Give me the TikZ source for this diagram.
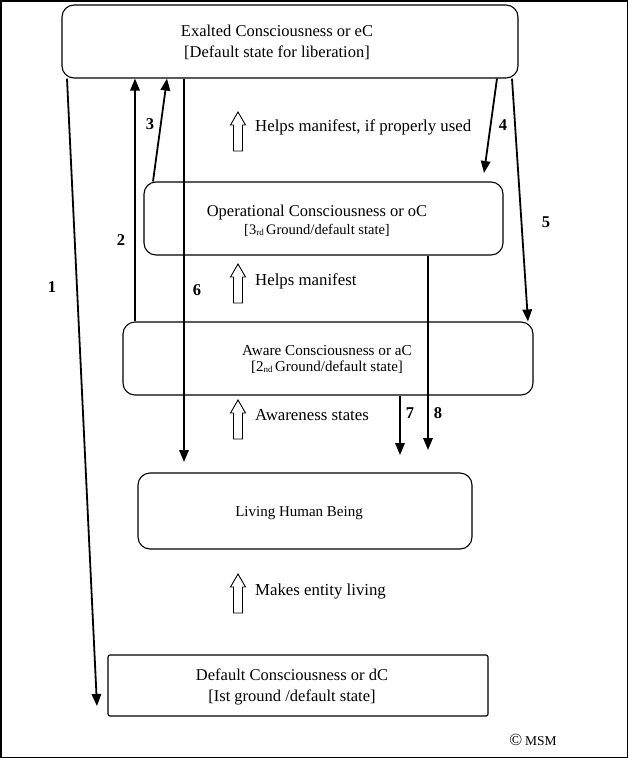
\documentclass[tikz,border=0pt]{standalone}
\usepackage{fontspec}
\setmainfont{Liberation Serif}
\usetikzlibrary{arrows.meta,calc}
\begin{document}
\begin{tikzpicture}[x=1pt,y=-1pt,
  box/.style={draw, line width=1.1pt, rounded corners=12pt, inner sep=0pt},
  sqbox/.style={draw, line width=1.1pt, rounded corners=2pt, inner sep=0pt},
  lbl/.style={font=\fontsize{16.5}{21}\selectfont, align=center, inner sep=0pt},
  lbls/.style={font=\fontsize{15.2}{18}\selectfont, align=center, inner sep=0pt},
  num/.style={font=\fontsize{16.5}{18}\selectfont\bfseries, inner sep=0pt},
  note/.style={font=\fontsize{16.8}{18}\selectfont, anchor=west, inner sep=0pt},
  conn/.style={line width=1.8pt, -{Triangle[length=12pt,width=9.5pt]}},
  hup/.pic={\draw[line width=0.9pt, fill=white] (-4.5,0) -- (-4.5,-26) -- (-7.5,-26) -- (0,-39) -- (7.5,-26) -- (4.5,-26) -- (4.5,0) -- cycle;}
]
\useasboundingbox (0,0) rectangle (628,758);
\draw[line width=1.5pt] (0.75,0.75) rectangle (627.25,757.25);

% boxes
\node[box, minimum width=456pt, minimum height=73pt] (eC) at (290,41.5) {};
\node[box, minimum width=359pt, minimum height=73pt] (oC) at (323.5,218.5) {};
\node[box, minimum width=410pt, minimum height=73pt] (aC) at (328,358.5) {};
\node[box, minimum width=334pt, minimum height=76pt] (LHB) at (305,511) {};
\node[sqbox, minimum width=380pt, minimum height=61pt] (dC) at (298,685.5) {};

% box texts
\node[lbl] (teC) at (277,42) {Exalted Consciousness or eC\\{[}Default state for liberation]};
\node[lbl] (toC) at (317,221) {Operational Consciousness or oC\\[-3pt]{\fontsize{14.5}{16}\selectfont [3\raisebox{-1pt}{\fontsize{9}{9}\selectfont rd}\,Ground/default state]}};
\node[lbls] (taC) at (327,359) {Aware Consciousness or aC\\[-2pt]{\fontsize{15}{16}\selectfont [2\raisebox{-1pt}{\fontsize{9}{9}\selectfont nd}\,Ground/default state]}};
\node[lbls, font=\fontsize{15}{18}\selectfont] (tLHB) at (299,513) {Living Human Being};
\node[lbl] (tdC) at (292,687) {Default Consciousness or dC\\{[}Ist ground /default state]};

% x positions of connectors
\coordinate (x1s) at (67,0);
\coordinate (x2) at (135,0);
\coordinate (x3s) at (153,0);
\coordinate (x3e) at (167,0);
\coordinate (x6) at (184,0);
\coordinate (x4s) at (497,0);
\coordinate (x5s) at (512,0);
\coordinate (x5e) at (528,0);
\coordinate (x7) at (400,0);
\coordinate (x8) at (428,0);
\coordinate (t1) at (97,706);
\coordinate (t4) at (484,173);
\coordinate (t6) at (184,462);
\coordinate (t7) at (400,455);
\coordinate (t8) at (428,450);

% connectors
\draw[conn] (eC.south -| x1s) -- (t1);
\draw[conn] (aC.north -| x2) -- (eC.south -| x2);
\draw[conn] (oC.north -| x3s) -- (eC.south -| x3e);
\draw[conn] (eC.south -| x6) -- (t6);
\draw[conn] (eC.south -| x4s) -- (t4);
\draw[conn] (eC.south -| x5s) -- (aC.north -| x5e);
\draw[conn] (aC.south -| x7) -- (t7);
\draw[conn] (oC.south -| x8) -- (t8);

% connector numbers
\node[num] (n1) at (52,287) {1};
\node[num] (n2) at (121,240) {2};
\node[num] (n3) at (150,124) {3};
\node[num] (n6) at (197,290) {6};
\node[num] (n4) at (503,125) {4};
\node[num] (n5) at (546,222) {5};
\node[num] (n7) at (410,413) {7};
\node[num] (n8) at (438,413) {8};

% hollow arrows and notes
\pic at (238,151) {hup};
\node[note] (h1) at (255,127) {Helps manifest, if properly used};
\pic at (238,303) {hup};
\node[note] (h2) at (255,281) {Helps manifest};
\pic at (238,439) {hup};
\node[note] (h3) at (255,415) {Awareness states};
\pic at (238,613) {hup};
\node[note] (h4) at (255,591) {Makes entity living};

% copyright
\node[inner sep=0pt, font=\fontsize{17}{18}\selectfont] (cp) at (533,740) {©\,{\fontsize{13.5}{14}\selectfont MSM}};
\end{tikzpicture}
\end{document}
